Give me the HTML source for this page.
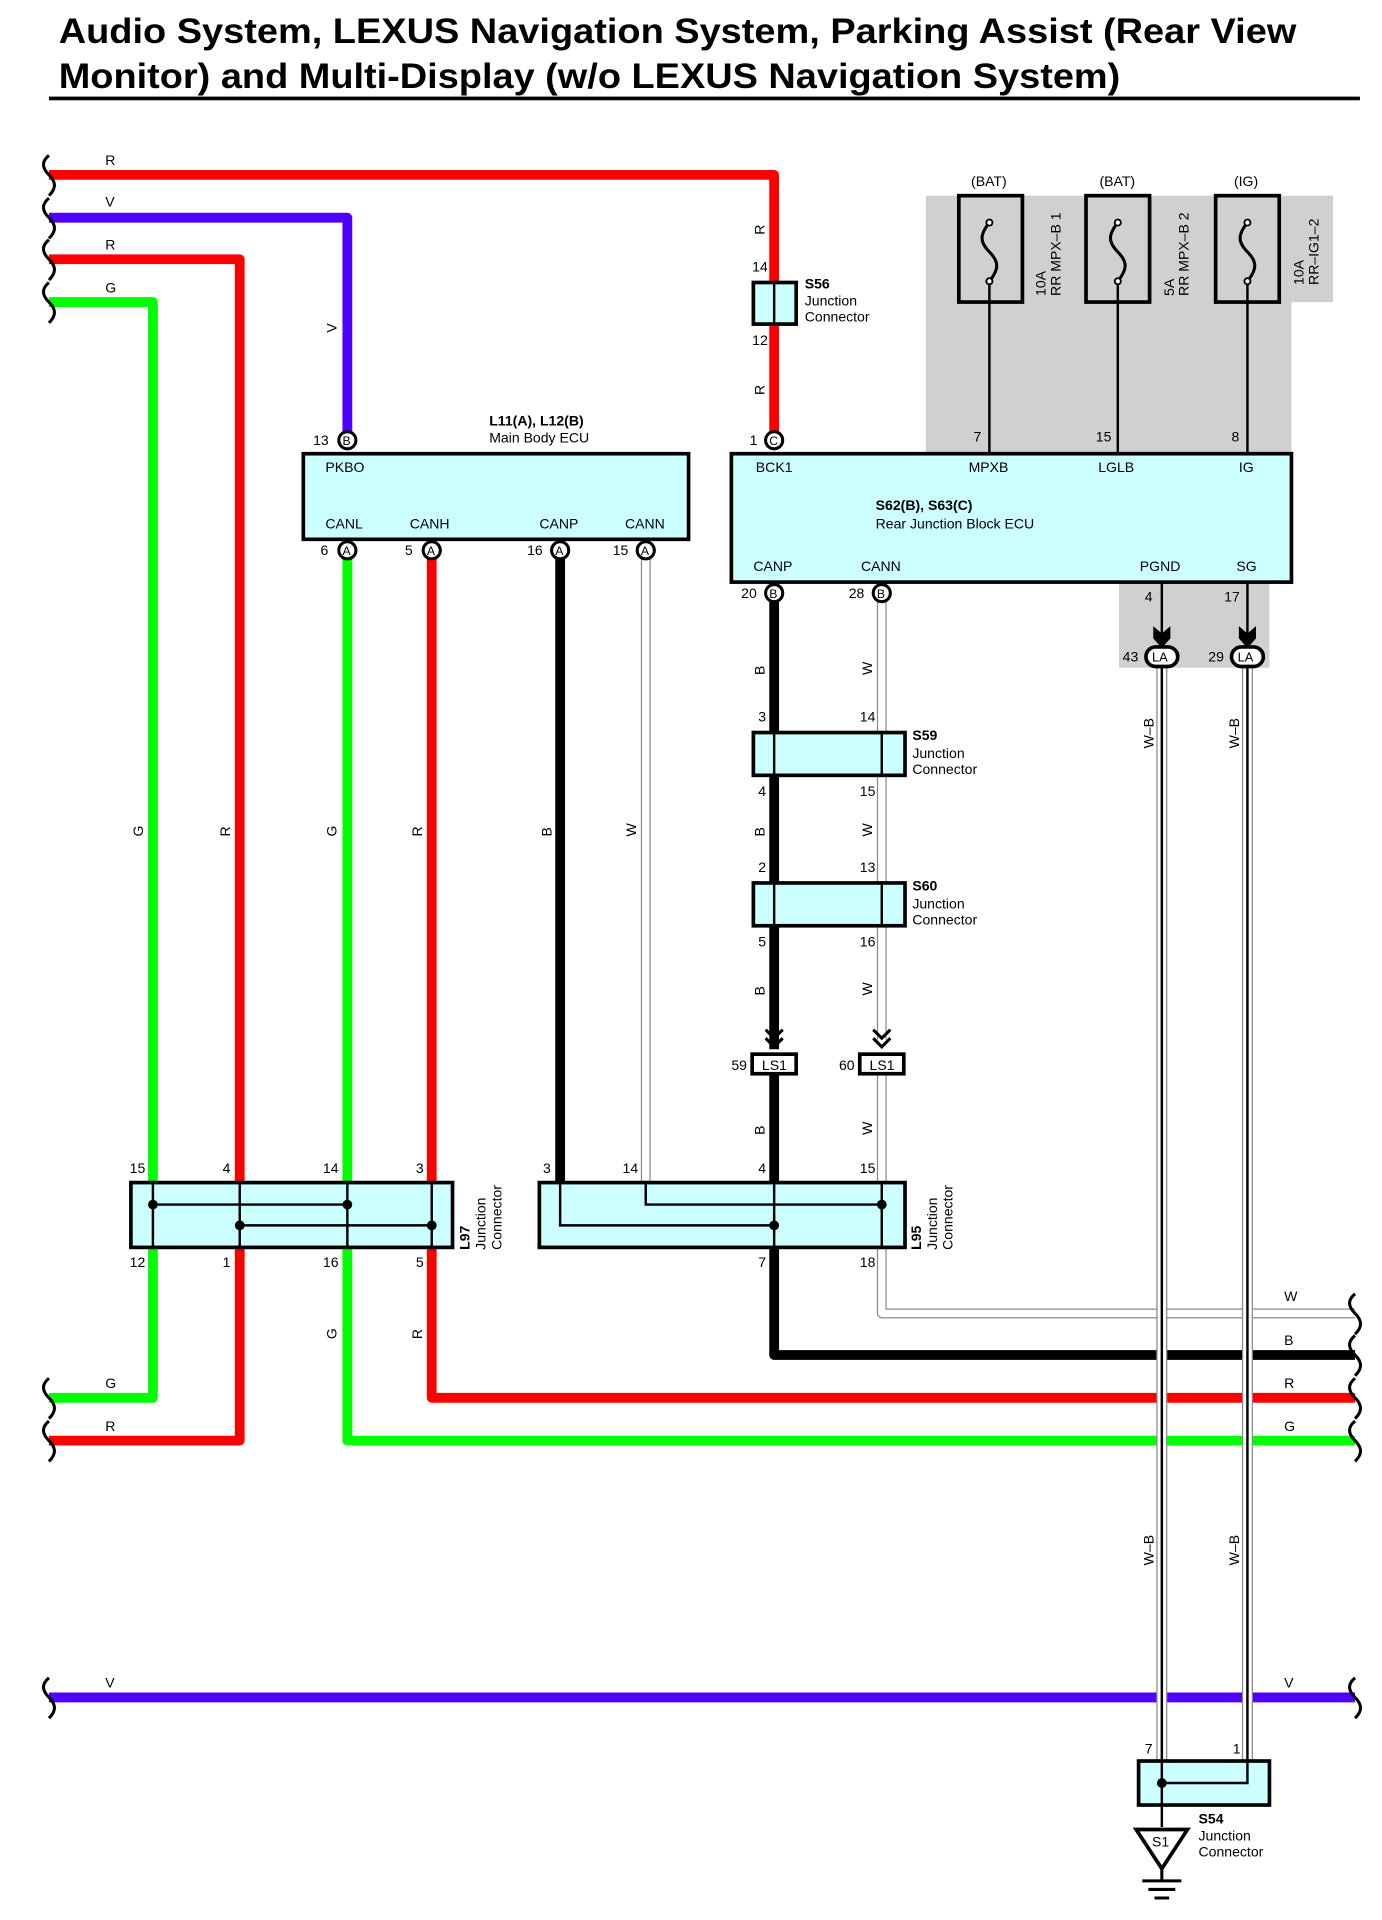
<!DOCTYPE html>
<html><head><meta charset="utf-8"><style>
html,body{margin:0;padding:0;background:#fff}
svg{display:block}
text{font-family:"Liberation Sans",sans-serif;font-size:11.5px;fill:#000}
.b{font-weight:bold}
.t{font-size:29px;font-weight:bold}
</style></head><body>
<svg width="1382" height="1920" viewBox="0 0 1130 1570" xmlns="http://www.w3.org/2000/svg">
<rect width="1130" height="1570" fill="#fff"/>
<text class="t" x="48" y="35" textLength="1012" lengthAdjust="spacingAndGlyphs">Audio System, LEXUS Navigation System, Parking Assist (Rear View</text>
<text class="t" x="48" y="72" textLength="868" lengthAdjust="spacingAndGlyphs">Monitor) and Multi-Display (w/o LEXUS Navigation System)</text>
<rect x="40" y="79" width="1072" height="3" fill="#000"/>

<path d="M757 160H1090V247H1056V371H757Z" fill="#d0d0d0"/>
<rect x="915" y="476" width="123" height="70" fill="#d0d0d0"/>

<g fill="none" stroke-linejoin="round">
<path d="M40 143H633V360" stroke="#f00" stroke-width="8"/>
<path d="M40 178H284V360" stroke="#5000ff" stroke-width="8"/>
<path d="M40 212H196V1178H40" stroke="#f00" stroke-width="8"/>
<path d="M40 247H125V1143H40" stroke="#0f0" stroke-width="8"/>
<path d="M284 450V1178H1108" stroke="#0f0" stroke-width="8"/>
<path d="M353 450V1143H1108" stroke="#f00" stroke-width="8"/>
<path d="M458 450V967" stroke="#000" stroke-width="8"/>
<path d="M528 450V967" stroke="#888" stroke-width="8"/>
<path d="M528 450V967" stroke="#fff" stroke-width="6"/>
<path d="M633 485V858M633 878V1108H1108" stroke="#000" stroke-width="8"/>
<path d="M721 485V850M721 878V1074H1108" stroke="#888" stroke-width="8"/>
<path d="M721 485V850M721 878V1074H1108" stroke="#fff" stroke-width="6"/>
<path d="M40 1388H1108" stroke="#5000ff" stroke-width="8"/>
<path d="M950 545V1440M1020 545V1440" stroke="#888" stroke-width="9"/>
<path d="M950 545V1440M1020 545V1440" stroke="#fff" stroke-width="7"/>
<path d="M950 545V1440M1020 545V1440" stroke="#000" stroke-width="2"/>
<path d="M809 230V371M914 230V371M1020 230V371" stroke="#000" stroke-width="2"/>
<path d="M950 476V522M1020 476V522" stroke="#000" stroke-width="2"/>
</g>

<g fill="none" stroke="#000" stroke-width="2.5">
<path d="M40 127c-6 5-6 10 0 16c6 6 6 11 0 17"/>
<path d="M40 162c-6 5-6 10 0 16c6 6 6 11 0 17"/>
<path d="M40 196c-6 5-6 10 0 16c6 6 6 11 0 17"/>
<path d="M40 231c-6 5-6 10 0 16c6 6 6 11 0 17"/>
<path d="M40 1127c-6 5-6 10 0 16c6 6 6 11 0 17"/>
<path d="M40 1162c-6 5-6 10 0 16c6 6 6 11 0 17"/>
<path d="M40 1372c-6 5-6 10 0 16c6 6 6 11 0 17"/>
<path d="M1108 1058c-6 5-6 10 0 16c6 6 6 11 0 17"/>
<path d="M1108 1092c-6 5-6 10 0 16c6 6 6 11 0 17"/>
<path d="M1108 1127c-6 5-6 10 0 16c6 6 6 11 0 17"/>
<path d="M1108 1162c-6 5-6 10 0 16c6 6 6 11 0 17"/>
<path d="M1108 1372c-6 5-6 10 0 16c6 6 6 11 0 17"/>
</g>

<text x="86" y="135">R</text><text x="86" y="169">V</text><text x="86" y="204">R</text><text x="86" y="239">G</text>
<text x="86" y="1135">G</text><text x="86" y="1170">R</text><text x="86" y="1380">V</text>
<text x="1050" y="1064">W</text><text x="1050" y="1100">B</text><text x="1050" y="1135">R</text><text x="1050" y="1170">G</text><text x="1050" y="1380">V</text>
<g>
<text transform="translate(117,684) rotate(-90)">G</text>
<text transform="translate(188,684) rotate(-90)">R</text>
<text transform="translate(275,684) rotate(-90)">G</text>
<text transform="translate(345,684) rotate(-90)">R</text>
<text transform="translate(451,684) rotate(-90)">B</text>
<text transform="translate(520,684) rotate(-90)">W</text>
<text transform="translate(275,1095) rotate(-90)">G</text>
<text transform="translate(345,1095) rotate(-90)">R</text>
<text transform="translate(275,272) rotate(-90)">V</text>
<text transform="translate(625,192) rotate(-90)">R</text>
<text transform="translate(625,323) rotate(-90)">R</text>
<text transform="translate(625,552) rotate(-90)">B</text>
<text transform="translate(713,552) rotate(-90)">W</text>
<text transform="translate(625,684) rotate(-90)">B</text>
<text transform="translate(713,684) rotate(-90)">W</text>
<text transform="translate(625,814) rotate(-90)">B</text>
<text transform="translate(713,814) rotate(-90)">W</text>
<text transform="translate(625,928) rotate(-90)">B</text>
<text transform="translate(713,928) rotate(-90)">W</text>
<text transform="translate(943,612) rotate(-90)">W–B</text>
<text transform="translate(1013,612) rotate(-90)">W–B</text>
<text transform="translate(943,1280) rotate(-90)">W–B</text>
<text transform="translate(1013,1280) rotate(-90)">W–B</text>
</g>

<rect x="616" y="231" width="35" height="34" fill="#ccffff" stroke="#000" stroke-width="3"/>
<line x1="633" y1="231" x2="633" y2="265" stroke="#000" stroke-width="2"/>
<text x="615" y="222">14</text><text x="615" y="282">12</text>
<text class="b" x="658" y="236">S56</text><text x="658" y="250">Junction</text><text x="658" y="263">Connector</text>

<rect x="248" y="371" width="315" height="70" fill="#ccffff" stroke="#000" stroke-width="3"/>
<text class="b" x="400" y="348">L11(A), L12(B)</text><text x="400" y="362">Main Body ECU</text>
<text x="266" y="386">PKBO</text>
<text x="266" y="432">CANL</text><text x="335" y="432">CANH</text><text x="441" y="432">CANP</text><text x="511" y="432">CANN</text>

<rect x="598" y="371" width="458" height="105" fill="#ccffff" stroke="#000" stroke-width="3"/>
<text x="618" y="386">BCK1</text><text x="792" y="386">MPXB</text><text x="898" y="386">LGLB</text><text x="1013" y="386">IG</text>
<text class="b" x="716" y="417">S62(B), S63(C)</text><text x="716" y="432">Rear Junction Block ECU</text>
<text x="616" y="467">CANP</text><text x="704" y="467">CANN</text><text x="932" y="467">PGND</text><text x="1011" y="467">SG</text>
<text x="796" y="361">7</text><text x="896" y="361">15</text><text x="1007" y="361">8</text>
<text x="936" y="492">4</text><text x="1001" y="492">17</text>

<g fill="none" stroke="#000">
<rect x="784" y="160" width="52" height="87" stroke-width="3"/>
<rect x="888" y="160" width="52" height="87" stroke-width="3"/>
<rect x="994" y="160" width="52" height="87" stroke-width="3"/>
<path d="M809 182c-8 10-8 16 0 24s8 14 0 24" stroke-width="2.5"/>
<path d="M914 182c-8 10-8 16 0 24s8 14 0 24" stroke-width="2.5"/>
<path d="M1020 182c-8 10-8 16 0 24s8 14 0 24" stroke-width="2.5"/>
</g>
<g fill="#fff" stroke="#000" stroke-width="1.5">
<circle cx="809" cy="182" r="2.5"/><circle cx="809" cy="230" r="2.5"/>
<circle cx="914" cy="182" r="2.5"/><circle cx="914" cy="230" r="2.5"/>
<circle cx="1020" cy="182" r="2.5"/><circle cx="1020" cy="230" r="2.5"/>
</g>
<text x="794" y="152">(BAT)</text><text x="899" y="152">(BAT)</text><text x="1009" y="152">(IG)</text>
<text transform="translate(855,242) rotate(-90)">10A</text><text transform="translate(867,242) rotate(-90)">RR MPX–B 1</text>
<text transform="translate(960,242) rotate(-90)">5A</text><text transform="translate(972,242) rotate(-90)">RR MPX–B 2</text>
<text transform="translate(1066,233) rotate(-90)">10A</text><text transform="translate(1078,233) rotate(-90)">RR–IG1–2</text>

<g fill="#000">
<path d="M943 512l7 6 7-6v10l-7 8-7-8z"/>
<path d="M1013 512l7 6 7-6v10l-7 8-7-8z"/>
</g>
<rect x="937" y="529" width="26" height="16" rx="8" fill="#fff" stroke="#000" stroke-width="3"/>
<rect x="1007" y="529" width="26" height="16" rx="8" fill="#fff" stroke="#000" stroke-width="3"/>
<text x="942" y="541" style="font-size:10.5px">LA</text><text x="1012" y="541" style="font-size:10.5px">LA</text>
<text x="918" y="541">43</text><text x="988" y="541">29</text>

<g fill="#fff" stroke="#000" stroke-width="2.5">
<circle cx="284" cy="360" r="7"/><circle cx="633" cy="360" r="7"/>
<circle cx="284" cy="450" r="7"/><circle cx="353" cy="450" r="7"/><circle cx="458" cy="450" r="7"/><circle cx="528" cy="450" r="7"/>
<circle cx="633" cy="485" r="7"/><circle cx="721" cy="485" r="7"/>
</g>
<g>
<text x="280" y="364" style="font-size:10px">B</text><text x="629" y="364" style="font-size:10px">C</text>
<text x="280" y="454" style="font-size:10px">A</text><text x="349" y="454" style="font-size:10px">A</text><text x="454" y="454" style="font-size:10px">A</text><text x="524" y="454" style="font-size:10px">A</text>
<text x="629" y="489" style="font-size:10px">B</text><text x="717" y="489" style="font-size:10px">B</text>
</g>
<text x="256" y="364">13</text><text x="613" y="364">1</text>
<text x="262" y="454">6</text><text x="331" y="454">5</text><text x="431" y="454">16</text><text x="501" y="454">15</text>
<text x="606" y="489">20</text><text x="694" y="489">28</text>

<rect x="616" y="599" width="124" height="35" fill="#ccffff" stroke="#000" stroke-width="3"/>
<rect x="616" y="722" width="124" height="35" fill="#ccffff" stroke="#000" stroke-width="3"/>
<path d="M633 599V634M721 599V634M633 722V757M721 722V757" stroke="#000" stroke-width="2"/>
<text x="620" y="590">3</text><text x="703" y="590">14</text><text x="620" y="651">4</text><text x="703" y="651">15</text>
<text x="620" y="713">2</text><text x="703" y="713">13</text><text x="620" y="774">5</text><text x="703" y="774">16</text>
<text class="b" x="746" y="605">S59</text><text x="746" y="620">Junction</text><text x="746" y="633">Connector</text>
<text class="b" x="746" y="728">S60</text><text x="746" y="743">Junction</text><text x="746" y="756">Connector</text>

<g fill="none" stroke="#000" stroke-width="2.5">
<path d="M626 842l7 7 7-7M626 849l7 7 7-7"/>
<path d="M714 842l7 7 7-7M714 849l7 7 7-7"/>
</g>
<rect x="615" y="862" width="36" height="16" fill="#fff" stroke="#000" stroke-width="3"/>
<rect x="703" y="862" width="36" height="16" fill="#fff" stroke="#000" stroke-width="3"/>
<text x="623" y="875">LS1</text><text x="711" y="875">LS1</text>
<text x="598" y="875">59</text><text x="686" y="875">60</text>

<rect x="107" y="967" width="263" height="53" fill="#ccffff" stroke="#000" stroke-width="3"/>
<g stroke="#000" stroke-width="2"><path d="M125 967V1020M196 967V1020M284 967V1020M353 967V1020M125 985H284M196 1002H353"/></g>
<g fill="#000"><circle cx="125" cy="985" r="4"/><circle cx="284" cy="985" r="4"/><circle cx="196" cy="1002" r="4"/><circle cx="353" cy="1002" r="4"/></g>
<text x="106" y="959">15</text><text x="182" y="959">4</text><text x="264" y="959">14</text><text x="340" y="959">3</text>
<text x="106" y="1036">12</text><text x="182" y="1036">1</text><text x="264" y="1036">16</text><text x="340" y="1036">5</text>
<text class="b" transform="translate(384,1022) rotate(-90)">L97</text>
<text transform="translate(397,1022) rotate(-90)">Junction</text><text transform="translate(410,1022) rotate(-90)">Connector</text>

<rect x="441" y="967" width="299" height="53" fill="#ccffff" stroke="#000" stroke-width="3"/>
<g stroke="#000" stroke-width="2" fill="none"><path d="M633 967V1020M721 967V1020M528 967V985H721M458 967V1002H633"/></g>
<g fill="#000"><circle cx="721" cy="985" r="4"/><circle cx="633" cy="1002" r="4"/></g>
<text x="444" y="959">3</text><text x="509" y="959">14</text><text x="620" y="959">4</text><text x="703" y="959">15</text>
<text x="620" y="1036">7</text><text x="703" y="1036">18</text>
<text class="b" transform="translate(753,1022) rotate(-90)">L95</text>
<text transform="translate(766,1022) rotate(-90)">Junction</text><text transform="translate(779,1022) rotate(-90)">Connector</text>

<rect x="931" y="1440" width="107" height="36" fill="#ccffff" stroke="#000" stroke-width="3"/>
<path d="M950 1440V1494M1020 1440V1458H950" fill="none" stroke="#000" stroke-width="2"/>
<circle cx="950" cy="1458" r="4" fill="#000"/>
<text x="936" y="1434">7</text><text x="1008" y="1434">1</text>
<path d="M929 1496H971L950 1528Z" fill="#fff" stroke="#000" stroke-width="3"/>
<text x="942" y="1510">S1</text>
<path d="M950 1528V1538M934 1538H966M939 1545H961M944 1552H956" stroke="#000" stroke-width="2.5"/>
<text class="b" x="980" y="1491">S54</text><text x="980" y="1505">Junction</text><text x="980" y="1518">Connector</text>
</svg>
</body></html>
